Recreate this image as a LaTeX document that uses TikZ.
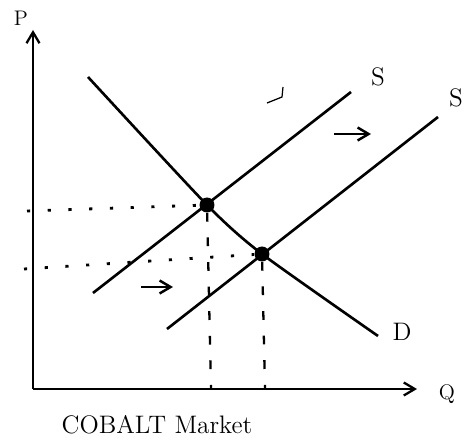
\documentclass[tikz,border=0pt]{standalone}
\usetikzlibrary{arrows.meta}

\begin{document}
\begin{tikzpicture}[
  x=0.02cm, y=-0.02cm,
  >={Straight Barb[length=2.2mm, width=2.6mm]},
  axis/.style={line width=1.3pt, black},
  curve/.style={line width=1.5pt, black},
  guide/.style={line width=1.6pt, black, dash pattern=on 1.8pt off 10pt},
  vguide/.style={line width=1.3pt, black, dash pattern=on 5pt off 9pt},
  shiftarrow/.style={line width=1.4pt, ->},
  lbl/.style={font=\Large, text=black},
  dot/.style={circle, fill=black, inner sep=0pt, minimum size=3mm},
]

\useasboundingbox (0,0) rectangle (474,442);

% === Axes ===
\coordinate (O) at (33,389);
\coordinate (ytop) at (33,30);
\coordinate (xend) at (417,389);
\draw[axis, ->] (O) -- (ytop);
\draw[axis, ->] (O) -- (xend);
\node[lbl, font=\large] (plab) at (21,18) {P};
\node[lbl, font=\large] (qlab) at (447,394) {Q};

% === Equilibria ===
\node[dot] (e1) at (207,205) {};
\node[dot] (e2) at (262,254) {};

% Demand
\coordinate (d1) at (88,77);
\coordinate (d2) at (378,336);
\draw[curve] plot[smooth, tension=0.4] coordinates {(d1) (e1) (e2) (d2)};
\node[lbl] (dlab) at (402,332) {D};

% Supply, before and after
\coordinate (s1a) at (93,293);
\coordinate (s1b) at (351,92);
\coordinate (s2a) at (167,329);
\coordinate (s2b) at (438,117);
\draw[curve] (s1a) -- (s1b);
\draw[curve] (s2a) -- (s2b);
\node[lbl] (s1lab) at (378,77) {S};
\node[lbl] (s2lab) at (456,98) {S};

% Shift arrows
\coordinate (a1) at (334,134);
\coordinate (a1e) at (371,134);
\coordinate (a2) at (141,287);
\coordinate (a2e) at (173,287);
\draw[shiftarrow] (a1) -- (a1e);
\draw[shiftarrow] (a2) -- (a2e);

% Guides to the axes
\coordinate (p1) at (27,211);
\coordinate (p2) at (24,269);
\coordinate (q1) at (211,389);
\coordinate (q2) at (265,389);
\draw[guide] (p1) -- (e1);
\draw[guide] (p2) -- (e2);
\draw[vguide] (e1) -- (q1);
\draw[vguide] (e2) -- (q2);

% stray pen mark
\coordinate (m1) at (267,103);
\coordinate (m2) at (282,97);
\coordinate (m3) at (283,87);
\draw[line width=0.7pt] (m1) -- (m2) -- (m3);

% Title
\node[font=\Large, text=black] (title) at (157,425) {COBALT Market};

\end{tikzpicture}
\end{document}
